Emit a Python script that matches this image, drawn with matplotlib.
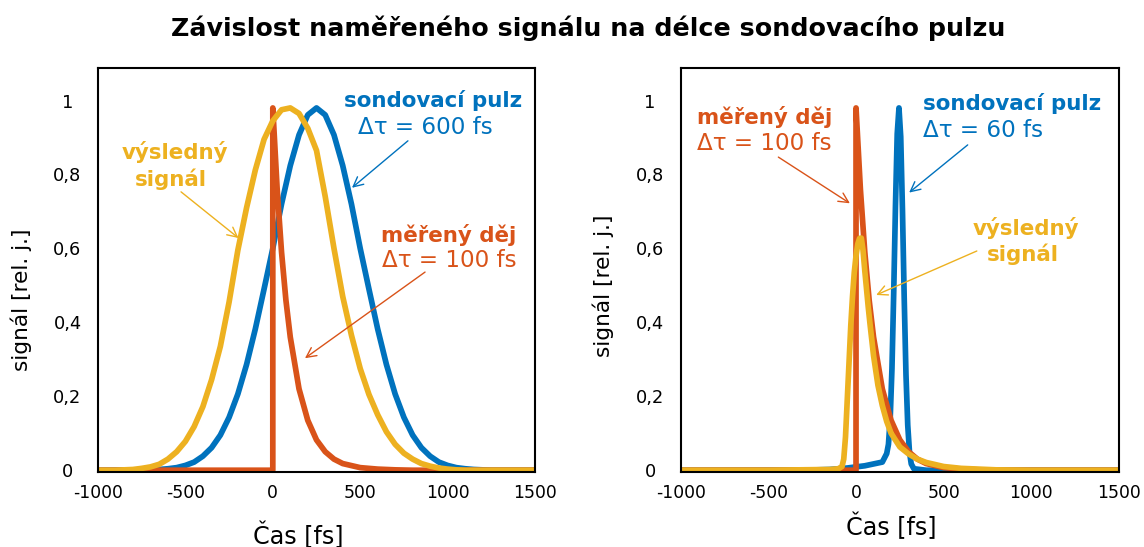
import matplotlib
matplotlib.use("Agg")
import matplotlib.pyplot as plt

# barvy (MATLAB paleta)
C_BLUE = "#0072BD"
C_ORANGE = "#D95319"
C_YELLOW = "#EDB120"

# časová osa pro široké křivky (krok 50 fs)
t_wide = [-1000, -950, -900, -850, -800, -750, -700, -650, -600, -550,
          -500, -450, -400, -350, -300, -250, -200, -150, -100, -50,
          0, 50, 100, 150, 200, 250, 300, 350, 400, 450,
          500, 550, 600, 650, 700, 750, 800, 850, 900, 950,
          1000, 1050, 1100, 1150, 1200, 1250, 1300, 1350, 1400, 1450, 1500]

# levý graf - sondovací pulz 600 fs
probe_600 = [0, 0, 0, 0, 0, 0, 0.001, 0.002, 0.004, 0.007,
             0.013, 0.022, 0.038, 0.061, 0.095, 0.143, 0.206, 0.286, 0.382, 0.49,
             0.6, 0.72, 0.824, 0.907, 0.961, 0.98, 0.961, 0.907, 0.824, 0.72,
             0.6, 0.49, 0.382, 0.286, 0.206, 0.143, 0.095, 0.061, 0.038, 0.022,
             0.013, 0.007, 0.004, 0.002, 0.001, 0, 0, 0, 0, 0, 0]

# levý graf - výsledný signál
result_600 = [0, 0, 0, 0.001, 0.002, 0.005, 0.009, 0.016, 0.03, 0.05,
              0.078, 0.118, 0.172, 0.245, 0.335, 0.455, 0.595, 0.71, 0.812, 0.895,
              0.945, 0.975, 0.98, 0.965, 0.925, 0.865, 0.74, 0.6, 0.47, 0.365,
              0.275, 0.205, 0.15, 0.104, 0.07, 0.046, 0.03, 0.018, 0.011, 0.006,
              0.003, 0.001, 0, 0, 0, 0, 0, 0, 0, 0, 0]

# měřený děj (stejný v obou grafech)
t_process = [-1000, 0, 0, 25, 50, 75, 100, 150, 200, 250, 300, 350, 400,
             500, 600, 700, 800, 1000, 1500]
process = [0, 0, 0.98, 0.76, 0.59, 0.46, 0.36, 0.22, 0.135, 0.082, 0.05, 0.03, 0.018,
           0.007, 0.003, 0.001, 0, 0, 0]

# pravý graf - sondovací pulz 60 fs
t_probe_60 = [-1000, -300, -150, -50, 50, 150, 175, 185, 195, 205, 215, 225, 235, 245,
              255, 265, 275, 285, 295, 305, 315, 330, 400, 1500]
probe_60 = [0, 0, 0.002, 0.006, 0.012, 0.022, 0.045, 0.07, 0.14, 0.275, 0.48, 0.715, 0.91, 0.98,
            0.902, 0.702, 0.463, 0.258, 0.122, 0.049, 0.017, 0.004, 0, 0]

# pravý graf - výsledný signál
t_result_60 = [-1000, -500, -150, -100, -80, -70, -60, -50, -40, -30, -20, -10, 0, 10, 20, 30,
               40, 50, 60, 70, 80, 100, 125, 150, 175, 200, 250, 300, 350, 400,
               500, 600, 800, 1000, 1500]
result_60 = [0, 0, 0.002, 0.004, 0.01, 0.03, 0.09, 0.19, 0.29, 0.39, 0.47, 0.535, 0.58, 0.612, 0.627, 0.628,
             0.595, 0.54, 0.49, 0.44, 0.395, 0.31, 0.23, 0.175, 0.132, 0.1, 0.063, 0.044, 0.03, 0.021,
             0.01, 0.005, 0.001, 0, 0]

x_ticks = [-1000, -500, 0, 500, 1000, 1500]
x_labels = ["-1000", "-500", "0", "500", "1000", "1500"]
y_ticks = [0, 0.2, 0.4, 0.6, 0.8, 1]
y_labels = ["0", "0,2", "0,4", "0,6", "0,8", "1"]

plt.rcParams["font.family"] = ["DejaVu Sans"]

fig = plt.figure(figsize=(11.44, 5.47), dpi=100)
ax1 = fig.add_axes([98 / 1144, 75.3 / 547, 437 / 1144, 403.7 / 547])
ax2 = fig.add_axes([680.7 / 1144, 75.3 / 547, 438.3 / 1144, 403.7 / 547])

LW = 4.1
FS_BOLD = 15.4
FS_NORM = 16.6


def setup_axes(ax, xlab_pos, ylab_pos):
    ax.set_xlim(-1000, 1500)
    ax.set_ylim(-0.004, 1.088)
    ax.set_xticks(x_ticks)
    ax.set_xticklabels(x_labels, fontsize=12.4)
    ax.set_yticks(y_ticks)
    ax.set_yticklabels(y_labels, fontsize=12.8)
    for lab in ax.get_yticklabels():
        lab.set_ha("center")
    ax.tick_params(axis="x", length=0, pad=9)
    ax.tick_params(axis="y", length=0, pad=22)
    for s in ax.spines.values():
        s.set_linewidth(1.5)
        s.set_color("black")
    ax.set_xlabel("Čas [fs]", fontsize=17.2, va="center")
    ax.xaxis.set_label_coords(*xlab_pos)
    ax.set_ylabel("signál [rel. j.]", fontsize=15.6, va="center")
    ax.yaxis.set_label_coords(*ylab_pos)


def arrow(ax, tail, head, color):
    ax.annotate("", xy=head, xytext=tail,
                arrowprops=dict(arrowstyle="->,head_length=0.7,head_width=0.35",
                                color=color, lw=1.0, shrinkA=0, shrinkB=0))


line_kw = dict(lw=LW, solid_capstyle="round", solid_joinstyle="round")

# levý graf
ax1.plot(t_wide, probe_600, color=C_BLUE, **line_kw)
ax1.plot(t_process, process, color=C_ORANGE, **line_kw)
ax1.plot(t_wide, result_600, color=C_YELLOW, **line_kw)
setup_axes(ax1, (0.458, -0.157), (-0.176, 0.425))

ax1.text(919, 1.001, "sondovací pulz", color=C_BLUE, fontsize=FS_BOLD, fontweight="bold",
         ha="center", va="center")
ax1.text(871, 0.928, "Δτ = 600 fs", color=C_BLUE, fontsize=FS_NORM, ha="center", va="center")
arrow(ax1, (773, 0.891), (453, 0.764), C_BLUE)

ax1.text(-560, 0.861, "výsledný", color=C_YELLOW, fontsize=FS_BOLD, fontweight="bold",
         ha="center", va="center")
ax1.text(-582, 0.788, "signál", color=C_YELLOW, fontsize=FS_BOLD, fontweight="bold",
         ha="center", va="center")
arrow(ax1, (-525, 0.753), (-196, 0.628), C_YELLOW)

ax1.text(1005, 0.636, "měřený děj", color=C_ORANGE, fontsize=FS_BOLD, fontweight="bold",
         ha="center", va="center")
ax1.text(1008, 0.566, "Δτ = 100 fs", color=C_ORANGE, fontsize=FS_NORM, ha="center", va="center")
arrow(ax1, (871, 0.536), (184, 0.303), C_ORANGE)

# pravý graf
ax2.plot(t_probe_60, probe_60, color=C_BLUE, **line_kw)
ax2.plot(t_process, process, color=C_ORANGE, **line_kw)
ax2.plot(t_result_60, result_60, color=C_YELLOW, **line_kw)
setup_axes(ax2, (0.48, -0.135), (-0.176, 0.46))

ax2.text(-522, 0.955, "měřený děj", color=C_ORANGE, fontsize=FS_BOLD, fontweight="bold",
         ha="center", va="center")
ax2.text(-525, 0.885, "Δτ = 100 fs", color=C_ORANGE, fontsize=FS_NORM, ha="center", va="center")
arrow(ax2, (-443, 0.847), (-35, 0.722), C_ORANGE)

ax2.text(891, 0.993, "sondovací pulz", color=C_BLUE, fontsize=FS_BOLD, fontweight="bold",
         ha="center", va="center")
ax2.text(725, 0.92, "Δτ = 60 fs", color=C_BLUE, fontsize=FS_NORM, ha="center", va="center")
arrow(ax2, (637, 0.880), (303, 0.751), C_BLUE)

ax2.text(968, 0.655, "výsledný", color=C_YELLOW, fontsize=FS_BOLD, fontweight="bold",
         ha="center", va="center")
ax2.text(951, 0.585, "signál", color=C_YELLOW, fontsize=FS_BOLD, fontweight="bold",
         ha="center", va="center")
arrow(ax2, (689, 0.593), (115, 0.474), C_YELLOW)

fig.text(588 / 1144, 1 - 28 / 547, "Závislost naměřeného signálu na délce sondovacího pulzu",
         fontsize=18.3, fontweight="bold", ha="center", va="center")

fig.savefig("out.png", dpi=100)
